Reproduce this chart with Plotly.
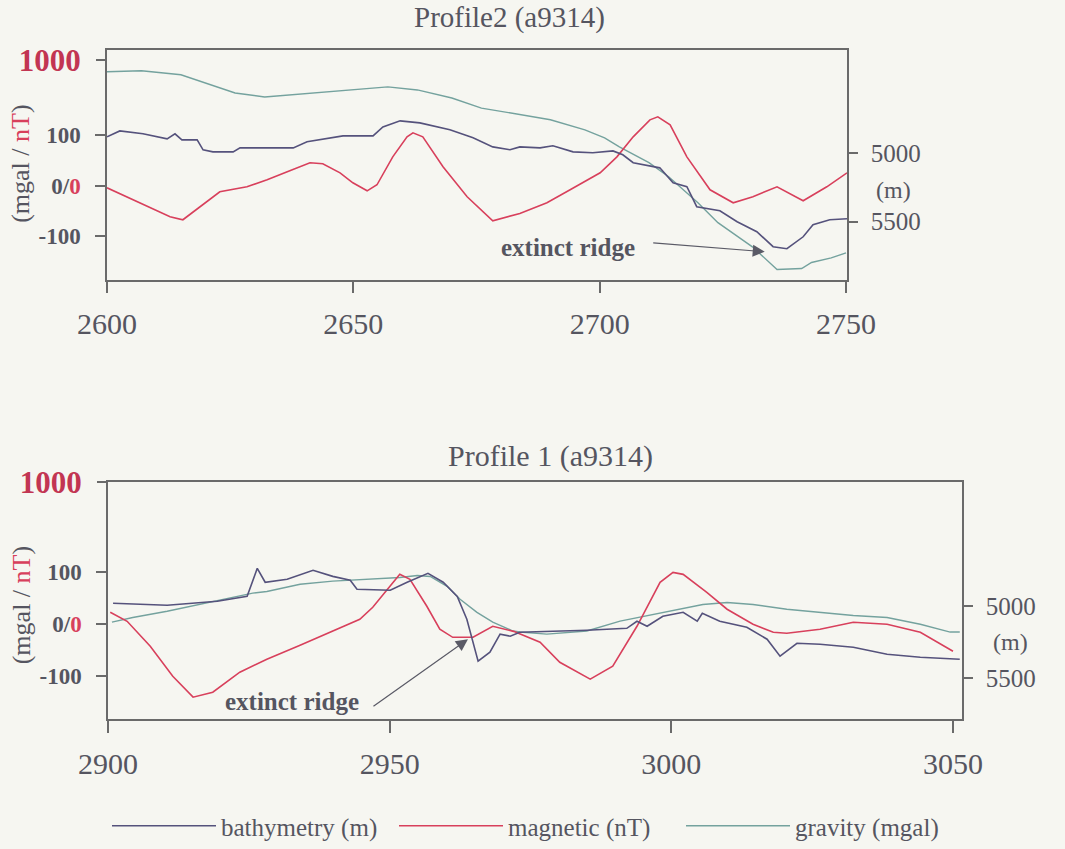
import plotly.graph_objects as go

# ---------------- Profile 2 (top) ----------------
p2_grav_x = [2600, 2607, 2615, 2620, 2626, 2632, 2639, 2646, 2653, 2657, 2663, 2670, 2676, 2684,
             2690, 2697, 2701, 2704, 2710, 2714, 2720, 2724, 2731, 2736, 2741, 2743, 2747, 2750]
p2_grav_y = [226, 228, 220, 204, 184, 176, 182, 188, 194, 196, 190, 174, 154, 141,
             131, 111, 95, 77, 46, 18, -34, -73, -121, -166, -164, -152, -143, -133]

p2_bath_x = [2600, 2602.6, 2607.3, 2610.1, 2612.2, 2613.8, 2615.2, 2618.3, 2619.5, 2621.5, 2625.6, 2627,
             2637.8, 2640.6, 2645.9, 2647.9, 2654, 2656, 2659.5, 2663.5, 2669.6, 2674.3, 2678.3, 2681.8,
             2683.8, 2687.9, 2690.5, 2694.6, 2698.6, 2702.7, 2704.7, 2706.8, 2712.2, 2714.9, 2717.7,
             2719.7, 2724.4, 2727.9, 2731.9, 2735.2, 2738, 2741.3, 2743.3, 2746.7, 2750.2]
p2_bath_y = [4884, 4841, 4862, 4884, 4899, 4862, 4906, 4906, 4978, 4993, 4993, 4964,
             4964, 4920, 4891, 4877, 4877, 4812, 4768, 4783, 4833, 4891, 4957, 4978,
             4957, 4964, 4949, 4993, 5000, 4986, 5014, 5072, 5109, 5217, 5246,
             5391, 5420, 5500, 5572, 5681, 5696, 5609, 5522, 5486, 5478]

p2_mag_x = [2600, 2606.7, 2612.8, 2615.4, 2618.9, 2622.9, 2628.4, 2632.5, 2637.1, 2641.2, 2643.8, 2647.3,
            2649.9, 2652.8, 2654.8, 2658, 2660.9, 2662.1, 2664.1, 2668.2, 2673.1, 2678.3, 2683.8,
            2689.3, 2694, 2700.1, 2703.5, 2706.8, 2710.2, 2711.8, 2714.3, 2717.7, 2722.4, 2727.1,
            2731.1, 2736, 2741.3, 2746.1, 2750.2]
p2_mag_y = [-16, -135, -246, -270, -167, -48, -8, 48, 119, 183, 175, 103,
            24, -40, 8, 230, 389, 421, 389, 151, -87, -278, -220,
            -135, -32, 103, 230, 389, 524, 548, 484, 230, -32, -135,
            -87, -8, -119, -8, 103]

# ---------------- Profile 1 (bottom) ----------------
p1_grav_x = [2900.7, 2904.4, 2910.5, 2916.3, 2922.2, 2925.7, 2928.2, 2934.1, 2939.9, 2946, 2951.8, 2954.9,
             2957.2, 2960.2, 2962.5, 2965.5, 2968.3, 2971.9, 2973.1, 2977.9, 2985, 2990.9, 2996.8, 3001,
             3005.6, 3009.9, 3014.5, 3020.5, 3026.4, 3032.3, 3038.3, 3044.2, 3049.5, 3051.2]
p1_grav_y = [4, 13, 25, 38, 52, 60, 63, 77, 83, 87, 90, 94,
             92, 73, 48, 23, 4, -13, -15, -19, -13, 6, 19, 29,
             38, 42, 38, 29, 23, 17, 13, 0, -15, -15]

p1_bath_x = [2900.9, 2910.5, 2919.4, 2924.7, 2926.5, 2927.9, 2931.8, 2936.4, 2939.9, 2943, 2944.2, 2950.1,
             2953.1, 2956.8, 2959.5, 2962, 2963.7, 2964.8, 2965.7, 2967.8, 2969.6, 2971.4, 2973.1, 2979,
             2985, 2992.1, 2993.9, 2995.7, 2998.5, 3002.1, 3004.6, 3005.5, 3008.6, 3013.4, 3017, 3019.3,
             3022.3, 3026.4, 3032.3, 3038.3, 3044.2, 3051.2]
p1_bath_y = [4979, 4993, 4965, 4931, 4736, 4833, 4812, 4750, 4792, 4819, 4882, 4889,
             4833, 4771, 4833, 4931, 5090, 5250, 5382, 5319, 5194, 5208, 5181, 5174,
             5167, 5153, 5104, 5139, 5069, 5042, 5104, 5049, 5104, 5146, 5229, 5347,
             5257, 5264, 5285, 5333, 5354, 5368]

p1_mag_x = [2900.4, 2903.4, 2907.5, 2911.5, 2915.1, 2918.6, 2923.4, 2928.2, 2934.1, 2939.9, 2944.7, 2947,
            2950.1, 2951.8, 2953.6, 2956.6, 2958.9, 2961.2, 2964.8, 2968.3, 2972, 2976.7, 2980.2, 2985.6,
            2989.6, 2993.9, 2998, 3000.3, 3002.1, 3006.3, 3009.9, 3014.5, 3018.1, 3020.5, 3026.4, 3032.3,
            3038.3, 3044.2, 3050]
p1_mag_y = [85, 21, -155, -366, -514, -479, -338, -246, -148, -49, 35, 120,
            268, 352, 317, 127, -35, -92, -92, -14, -50, -127, -268, -387,
            -296, -14, 296, 366, 352, 225, 106, 0, -56, -63, -35, 14,
            0, -56, -190]

# tick labels
x_ticks_top = [2600, 2650, 2700, 2750]
x_ticks_bot = [2900, 2950, 3000, 3050]
grav_ticks = [-100, 0, 100]
mag_ticks = [1000]
bath_ticks = [5000, 5500]

RED = "#d8405c"
BATH = "#55527c"
GRAV = "#74a29e"
AX = "#6a6a6a"
TXT = "#555560"
FONT = "Liberation Serif"

W, H = 1065, 849

def px(v):
    return v / W

def py(v):
    return 1 - v / H

fig = go.Figure()

def add_panel(bx, by, gx, gy, mx, my, xa, ya_g, ya_m, ya_b, show):
    fig.add_trace(go.Scatter(x=bx, y=by, mode="lines", name="bathymetry (m)",
                             line=dict(color=BATH, width=1.6), xaxis=xa, yaxis=ya_b,
                             showlegend=show, legendrank=1))
    fig.add_trace(go.Scatter(x=mx, y=my, mode="lines", name="magnetic (nT)",
                             line=dict(color=RED, width=1.6), xaxis=xa, yaxis=ya_m,
                             showlegend=show, legendrank=2))
    fig.add_trace(go.Scatter(x=gx, y=gy, mode="lines", name="gravity (mgal)",
                             line=dict(color=GRAV, width=1.4), xaxis=xa, yaxis=ya_g,
                             showlegend=show, legendrank=3))

add_panel(p2_bath_x, p2_bath_y, p2_grav_x, p2_grav_y, p2_mag_x, p2_mag_y, "x", "y", "y2", "y3", True)
add_panel(p1_bath_x, p1_bath_y, p1_grav_x, p1_grav_y, p1_mag_x, p1_mag_y, "x2", "y4", "y5", "y6", False)

grav_text = ["-100", "0/<span style='color:%s'>0</span>" % RED, "100"]

def xaxis(domain, rng, ticks, anchor):
    return dict(domain=domain, range=rng, anchor=anchor, tickvals=ticks, ticks="outside", ticklen=12,
                tickwidth=1.5, automargin=False,
                tickcolor=AX, showline=True, linecolor=AX, linewidth=1.5, mirror=True,
                showgrid=False, zeroline=False, ticklabelstandoff=5,
                tickfont=dict(family=FONT, size=30, color=TXT))

def gaxis(domain, rng, anchor):
    return dict(domain=domain, range=rng, anchor=anchor, tickvals=grav_ticks, ticktext=grav_text,
                ticks="outside", ticklen=10, tickwidth=1.5, tickcolor=AX, showline=True,
                linecolor=AX, linewidth=1.5, showgrid=False, zeroline=False, automargin=False,
                ticklabelstandoff=10,
                tickfont=dict(family=FONT, size=23, color=TXT, weight="bold"))

def maxis(rng, anchor, over):
    return dict(range=rng, anchor=anchor, overlaying=over, side="left", tickvals=mag_ticks,
                ticks="outside", ticklen=10, tickwidth=1.5, tickcolor=AX, showline=False,
                showgrid=False, zeroline=False, automargin=False, ticklabelstandoff=9,
                tickfont=dict(family=FONT, size=31, color="#c23552", weight="bold"))

def baxis(rng, anchor, over):
    return dict(range=rng, anchor=anchor, overlaying=over, side="right", tickvals=bath_ticks,
                ticks="outside", ticklen=9, tickwidth=1.5, tickcolor=AX, showline=True,
                linecolor=AX, linewidth=1.5, showgrid=False, zeroline=False, ticklabelstandoff=8,
                automargin=False, tickfont=dict(family=FONT, size=25, color=TXT))

top_dom_x = [px(107), px(847)]
top_dom_y = [py(280), py(50)]
bot_dom_x = [px(108), px(962)]
bot_dom_y = [py(720), py(483)]

fig.update_layout(
    width=W, height=H,
    margin=dict(l=0, r=0, t=0, b=0),
    paper_bgcolor="#f6f6f1", plot_bgcolor="#f6f6f1",
    xaxis=xaxis(top_dom_x, [2600, 2750.2], x_ticks_top, "y"),
    yaxis=gaxis(top_dom_y, [-186.1, 269.3], "x"),
    yaxis2=maxis([-746, 1079.4], "x", "y"),
    yaxis3=baxis([5920.2, 4253.7], "x", "y"),
    xaxis2=xaxis(bot_dom_x, [2900, 3051.6], x_ticks_bot, "y4"),
    yaxis4=gaxis(bot_dom_y, [-182.7, 273.1], "x2"),
    yaxis5=maxis([-669, 1000], "x2", "y4"),
    yaxis6=baxis([5784.7, 4139], "x2", "y4"),
    showlegend=True,
    legend=dict(orientation="h", x=px(107), xanchor="left", y=py(827), yanchor="middle",
                font=dict(family=FONT, size=25, color=TXT), itemwidth=104,
                entrywidth=168, entrywidthmode="pixels", bgcolor="rgba(0,0,0,0)",
                traceorder="normal"),
)

def note(text, x, y, size, **kw):
    d = dict(text=text, x=px(x), y=py(y), xref="paper", yref="paper", showarrow=False,
             xanchor="center", yanchor="middle", font=dict(family=FONT, size=size, color=TXT))
    d.update(kw)
    return d

ann = []
ann.append(note("Profile2 (a9314)", 510, 18, 29))
ann.append(note("Profile 1 (a9314)", 550, 457, 30))
for yc in (164, 606):
    ann.append(note("(mgal / <span style='color:%s'>nT</span>)" % RED, 21, yc, 26, textangle=-90))
ann.append(note("(m)", 893, 190, 24))
ann.append(note("(m)", 1010, 643, 24))
ann.append(note("<b>extinct ridge</b>", 568, 248, 25))
ann.append(note("<b>extinct ridge</b>", 292, 702, 25))
ann.append(dict(text="", x=2733.5, y=-130.7, xref="x", yref="y", showarrow=True, ax=-113, ay=-9,
                arrowhead=2, arrowsize=2, arrowwidth=1.2, arrowcolor="#5a5a66"))
ann.append(dict(text="", x=2963.9, y=-28.8, xref="x2", yref="y4", showarrow=True, ax=-96, ay=68,
                arrowhead=2, arrowsize=2, arrowwidth=1.2, arrowcolor="#5a5a66"))
fig.update_layout(annotations=ann)

fig.write_html("out.html")
